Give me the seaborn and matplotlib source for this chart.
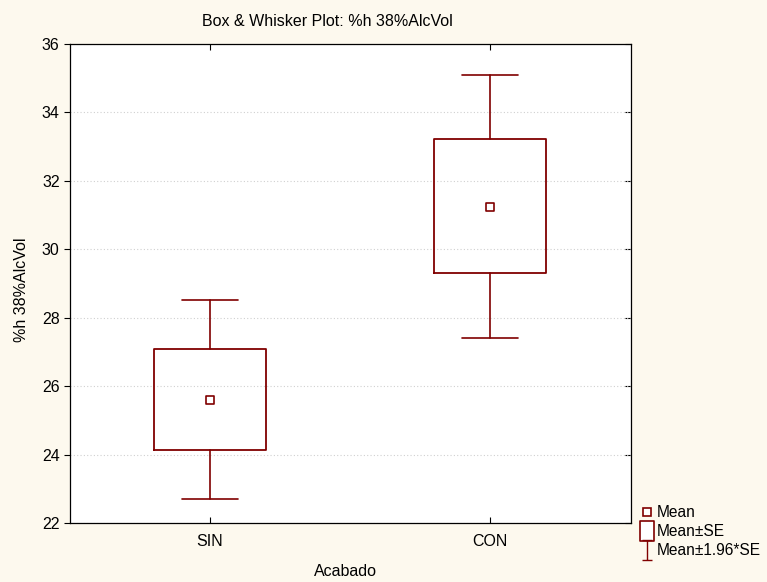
import numpy as np
import pandas as pd
import matplotlib
matplotlib.use("Agg")
import matplotlib.pyplot as plt
from matplotlib.lines import Line2D
from matplotlib.path import Path
import seaborn as sns

# values (Mean, Mean±SE, Mean±1.96*SE)
groups = ["SIN", "CON"]
means = [25.60, 31.25]
se_low = [24.13, 29.30]
se_high = [27.08, 33.21]
ci_low = [22.70, 27.42]
ci_high = [28.53, 35.09]

dark_red = "#800000"
bg = "#fdf9ee"
fs = 11.5

sns.set_style("white")
plt.rcParams["font.family"] = ["Liberation Sans", "DejaVu Sans"]
plt.rcParams["text.color"] = "black"
plt.rcParams["xtick.color"] = "black"
plt.rcParams["ytick.color"] = "black"

fig = plt.figure(figsize=(7.67, 5.82), dpi=100, facecolor=bg)
ax = fig.add_axes([70 / 767, 1 - 523 / 582, 561 / 767, 479 / 582])
ax.set_facecolor("white")

stats = []
for i, g in enumerate(groups):
    stats.append({"label": g, "med": means[i], "q1": se_low[i], "q3": se_high[i],
                  "whislo": ci_low[i], "whishi": ci_high[i], "fliers": []})

ax.bxp(stats, positions=range(len(groups)), widths=0.40, showfliers=False,
       boxprops=dict(color=dark_red, linewidth=1.3),
       whiskerprops=dict(color=dark_red, linewidth=1.2),
       capprops=dict(color=dark_red, linewidth=1.2),
       medianprops=dict(linewidth=0), capwidths=0.2)

df = pd.DataFrame({"Acabado": groups, "mean": means, "pos": range(len(groups))})
sns.scatterplot(data=df, x="pos", y="mean", marker="s", s=40, facecolor="white",
                edgecolor=dark_red, linewidth=1.2, ax=ax, zorder=5)

ax.set_xlim(-0.5, 1.505)
ax.set_ylim(22, 36)
ax.set_yticks(np.arange(22, 37, 2))
ax.set_xticks(range(len(groups)))
ax.set_xticklabels(groups)
ax.yaxis.grid(True, linestyle=(0, (1, 2)), color="#d0d0d0", linewidth=0.8)
ax.xaxis.grid(False)
ax.tick_params(axis="y", which="both", left=True, right=False, direction="out", length=4,
               labelsize=fs, labelcolor="black")
ax.tick_params(axis="x", direction="in", length=4, labelsize=fs, bottom=True, top=True,
               labelcolor="black", pad=8)
# inward ticks on the right spine
ax2 = ax.secondary_yaxis("right")
ax2.set_yticks(np.arange(22, 37, 2))
ax2.tick_params(direction="in", length=4, labelright=False)
ax2.spines["right"].set_visible(False)
for s in ax.spines.values():
    s.set_color("black")
    s.set_linewidth(0.9)
ax.set_xlabel("")
ax.set_ylabel("")

fig.text(327 / 767, 1 - 22 / 582, "Box & Whisker Plot: %h 38%AlcVol", ha="center", va="center", fontsize=fs)
fig.text(345 / 767, 1 - 572 / 582, "Acabado", ha="center", va="center", fontsize=fs)
fig.text(22 / 767, 1 - 290 / 582, "%h 38%AlcVol", ha="center", va="center", rotation=90, fontsize=fs)

cap_path = Path([(-0.5, 1), (0.5, 1), (0, 1), (0, -1), (-0.5, -1), (0.5, -1)],
                [Path.MOVETO, Path.LINETO, Path.MOVETO, Path.LINETO, Path.MOVETO, Path.LINETO])
rect_path = Path([(-0.7, -1), (0.7, -1), (0.7, 1), (-0.7, 1), (-0.7, -1)],
                 [Path.MOVETO, Path.LINETO, Path.LINETO, Path.LINETO, Path.CLOSEPOLY])
handles = [
    Line2D([], [], linestyle="none", marker="s", markersize=6, markerfacecolor="white",
           markeredgecolor=dark_red, markeredgewidth=1.2),
    Line2D([], [], linestyle="none", marker=rect_path, markersize=14, markerfacecolor="white",
           markeredgecolor=dark_red, markeredgewidth=1.2),
    Line2D([], [], linestyle="none", marker=cap_path, markersize=14, markerfacecolor="none",
           markeredgecolor=dark_red, markeredgewidth=1.0),
]
fig.legend(handles, ["Mean", "Mean±SE", "Mean±1.96*SE"], loc="lower left",
           bbox_to_anchor=(632 / 767, 1 - 566 / 582), frameon=False, fontsize=11.2,
           handlelength=0.9, handletextpad=0.2, labelspacing=0.25, borderpad=0)

fig.savefig("out.png", dpi=100, facecolor=bg)
